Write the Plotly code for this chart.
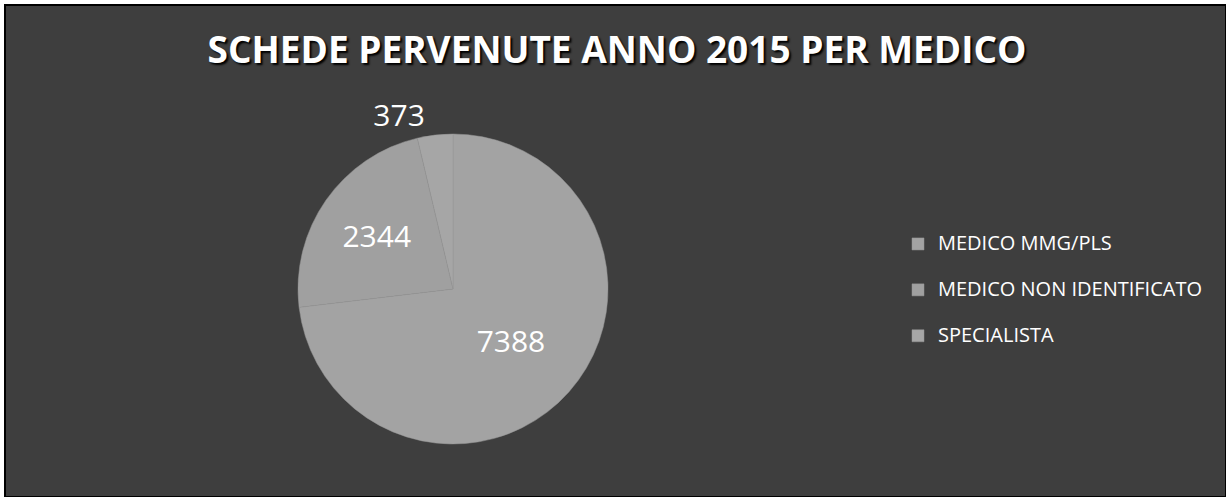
import plotly.graph_objects as go

categories = ["MEDICO MMG/PLS", "MEDICO NON IDENTIFICATO", "SPECIALISTA"]
values = [7388, 2344, 373]
slice_colors = ["#a3a3a3", "#a0a0a0", "#a6a6a6"]
title_text = "SCHEDE PERVENUTE ANNO 2015 PER MEDICO"

W, H = 1226, 497

# legend text drawn smaller than the legend font so entries are spaced like the original
legend_labels = ["<span style='font-size:20px;baseline-shift:7px'>" + c + "</span>"
                 for c in categories]

fig = go.Figure()
fig.add_trace(go.Pie(
    labels=legend_labels,
    values=values,
    sort=False,
    direction="clockwise",
    rotation=0,
    marker=dict(colors=slice_colors, line=dict(color="#979797", width=0.5)),
    textinfo="value",
    texttemplate="%{value}",
    textposition=["inside", "inside", "outside"],
    insidetextorientation="horizontal",
    textfont=dict(family="Open Sans", size=30, color="white"),
    outsidetextfont=dict(family="Open Sans", size=30, color="white"),
    insidetextfont=dict(family="Open Sans", size=30, color="white"),
    domain=dict(x=[298 / W, 608 / W], y=[52 / H, 364 / H]),
    hovertemplate="%{label}: %{value}<extra></extra>",
))

fig.update_layout(
    width=W, height=H,
    margin=dict(l=0, r=0, t=0, b=0),
    paper_bgcolor="white",
    plot_bgcolor="#3e3e3e",
    title=dict(
        text=title_text,
        x=617 / W, xanchor="center",
        y=1 - 50 / H, yanchor="middle",
        font=dict(family="Open Sans", size=37, color="white", weight="bold",
                  shadow="2px 2px 2px black"),
    ),
    showlegend=True,
    legend=dict(
        x=898 / W, xanchor="left",
        y=1 - 290 / H, yanchor="middle",
        bgcolor="rgba(0,0,0,0)",
        font=dict(family="Open Sans", size=33, color="white"),
        itemwidth=30,
        tracegroupgap=0,
    ),
    shapes=[dict(
        type="rect", xref="paper", yref="paper", layer="below",
        x0=5 / W, x1=1, y0=0, y1=1 - 5 / H,
        fillcolor="#3e3e3e", line=dict(color="black", width=2),
    )],
)

fig.write_html("out.html")
